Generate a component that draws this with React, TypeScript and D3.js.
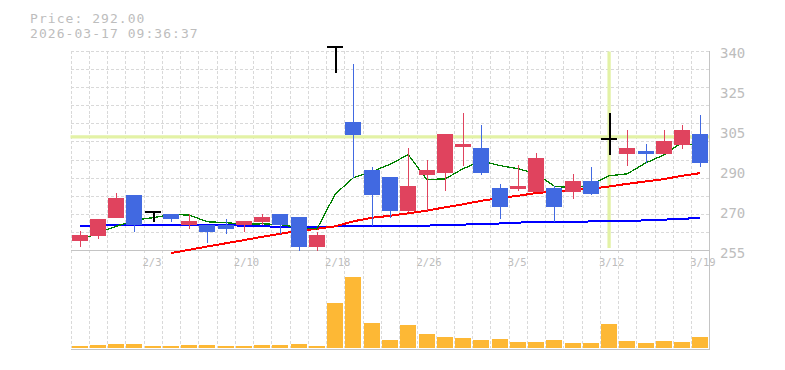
import React from "react";
import * as d3 from "d3";

const headerPrice = "Price: 292.00";
const headerTime = "2026-03-17 09:36:37";

const dates = ["1/28","1/29","1/30","2/2","2/3","2/4","2/5","2/6","2/9","2/10","2/12","2/13","2/16","2/17","2/18","2/19","2/20","2/24","2/25","2/26","2/27","3/2","3/3","3/4","3/5","3/6","3/9","3/10","3/11","3/12","3/13","3/16","3/17","3/18","3/19"];

const opens = [259.1, 261.3, 268.9, 278.7, 271.3, 270.6, 265.9, 265.9, 265.9, 265.9, 267.2, 270.6, 269.3, 256.3, 341.7, 309.7, 289.3, 286.3, 272.0, 287.2, 288.15, 299.1, 298.65, 281.65, 281.2, 279.95, 281.65, 279.95, 284.6, 302.35, 296.2, 297.4, 296.2, 300.05, 304.6];
const closes = [261.7, 268.5, 277.4, 265.9, 271.3, 268.2, 267.6, 263.0, 264.2, 267.6, 269.3, 265.9, 256.3, 261.7, 341.7, 304.3, 278.4, 272.0, 282.5, 289.3, 304.6, 300.35, 288.15, 273.3, 282.5, 294.4, 273.3, 284.6, 279.1, 302.35, 298.65, 296.2, 301.6, 306.3, 292.0];
const highs = [263.4, 268.5, 279.5, 278.7, 271.3, 270.6, 270.6, 265.9, 268.5, 267.6, 270.6, 270.6, 269.3, 263.0, 341.7, 334.4, 290.6, 286.3, 298.65, 293.55, 304.6, 313.5, 308.4, 283.35, 291.4, 296.5, 282.5, 287.6, 290.6, 313.65, 306.3, 300.35, 306.3, 308.4, 312.7];
const lows = [256.3, 260.0, 268.9, 263.0, 267.3, 267.2, 264.2, 258.4, 262.1, 263.0, 265.9, 262.1, 255.0, 255.0, 330.4, 285.8, 265.5, 269.0, 271.2, 272.0, 280.1, 291.1, 287.3, 268.2, 280.1, 279.95, 267.3, 277.1, 278.4, 295.4, 291.0, 292.0, 296.2, 298.35, 290.3];

const volumes = [17, 27, 37, 37, 17, 17, 27, 27, 17, 17, 27, 27, 37, 17, 447, 707, 247, 77, 227, 137, 107, 97, 77, 87, 57, 57, 77, 47, 47, 237, 67, 47, 67, 57, 107];

const ma5 = [259.38, 262.48, 265.29, 267.84, 268.94, 270.26, 270.09, 267.2, 266.86, 266.14, 266.35, 266.01, 264.69, 264.18, 278.99, 285.97, 288.46, 291.61, 295.77, 285.29, 285.35, 289.75, 292.98, 291.13, 289.77, 287.73, 282.32, 281.61, 282.78, 286.75, 287.6, 292.19, 295.59, 301.03, 299.04];
const ma25 = [null, null, null, null, null, 253.9, 255.3, 256.7, 258.06, 259.42, 260.82, 262.1, 263.37, 264.22, 265.29, 267.41, 268.9, 269.75, 270.81, 271.87, 273.36, 274.64, 276.12, 277.27, 278.25, 279.4, 280.08, 280.8, 281.22, 282.2, 283.35, 284.33, 285.35, 286.75, 287.9];
const ma75 = [265.41, 265.58, 265.92, 265.92, 265.92, 265.92, 265.92, 265.92, 265.84, 265.5, 265.29, 265.07, 264.95, 265.07, 265.2, 265.24, 265.33, 265.41, 265.5, 265.58, 265.8, 266.01, 266.26, 266.48, 266.86, 267.07, 267.2, 267.28, 267.33, 267.45, 267.62, 267.79, 268.13, 268.39, 268.98];

const priceTickValues = [255, 272, 289, 306, 323, 340];
const priceTickLabels = ["255", "270", "290", "305", "325", "340"];

const cursorIndex = 29;
const cursorPrice = 303.3;

const W = 785, H = 370;
const L = 70.5, R = 709.5, T = 50.5, B = 250.5;
const VB = 348, VT = 277, VAXIS = 349.5;

const UP = "#e0435e";
const DOWN = "#4169e1";
const GRID = "#d9d9d9";
const AXIS = "#c4c4c4";
const TEXT = "#bdbdbd";
const CROSS = "#e3f2a6";
const MONO = "'DejaVu Sans Mono', monospace";

export default function App() {
  const idx = d3.range(dates.length);
  const x = d3.scaleBand<number>().domain(idx).range([L, R]).paddingInner(0.1236).paddingOuter(0.0618);
  const step = x.step();
  const cx = (i: number) => (x(i) as number) + x.bandwidth() / 2;
  const y = d3.scaleLinear().domain([255, 340]).range([B, T]);
  const yv = d3.scaleLinear().domain([0, d3.max(volumes) as number]).range([VB, VT]);

  const gridPrices = d3.range(11).map((k) => 255 + ((k + 1) * 85) / 11);
  const vGrid = d3.range(dates.length).map((i) => L + step * i);

  const lineGen = d3
    .line<number | null>()
    .defined((d) => d !== null)
    .x((_, i) => cx(i))
    .y((d) => y(d as number));

  return (
    <svg width={W} height={H} style={{ display: "block", position: "absolute", left: 0, top: 0 }}>
      <rect x={0} y={0} width={W} height={H} fill="#fff" />
      <text x={30} y={22.5} fontFamily={MONO} fontSize={13} letterSpacing={1.05} fill={TEXT}>{headerPrice}</text>
      <text x={30} y={37.5} fontFamily={MONO} fontSize={13} letterSpacing={1.05} fill={TEXT}>{headerTime}</text>

      {/* grid */}
      <g stroke={GRID} strokeWidth={1} strokeDasharray="3,2" shapeRendering="crispEdges">
        {gridPrices.map((p, k) => (
          <line key={"h" + k} x1={L} x2={R} y1={Math.round(y(p)) + 0.5} y2={Math.round(y(p)) + 0.5} />
        ))}
        {vGrid.map((gx, k) => (
          <line key={"v" + k} x1={Math.round(gx) + 0.5} x2={Math.round(gx) + 0.5} y1={T} y2={VB} />
        ))}
      </g>

      {/* crosshair */}
      <line x1={L} x2={R} y1={y(cursorPrice)} y2={y(cursorPrice)} stroke={CROSS} strokeWidth={3.3} />
      <line x1={cx(cursorIndex)} x2={cx(cursorIndex)} y1={T + 1} y2={B - 2.5} stroke={CROSS} strokeWidth={3.3} />

      {/* axes */}
      <g stroke={AXIS} strokeWidth={1} shapeRendering="crispEdges">
        <line x1={L} x2={R} y1={B} y2={B} />
        <line x1={L} x2={R} y1={VAXIS} y2={VAXIS} />
        <line x1={R} x2={R} y1={T} y2={VAXIS} />
      </g>

      {/* moving averages */}
      <path d={lineGen(ma75) || ""} fill="none" stroke="#0000ff" strokeWidth={2} shapeRendering="crispEdges" />
      <path d={lineGen(ma25) || ""} fill="none" stroke="#ff0000" strokeWidth={2} shapeRendering="crispEdges" />
      <path d={lineGen(ma5) || ""} fill="none" stroke="#008000" strokeWidth={1.3} shapeRendering="crispEdges" />

      {/* candles */}
      {idx.map((i) => {
        const o = opens[i], c = closes[i], h = highs[i], l = lows[i];
        const x0 = x(i) as number;
        const mx = Math.round(cx(i)) + 0.5;
        if (o === c) {
          return (
            <g key={"c" + i} stroke="#000" strokeWidth={2} shapeRendering="crispEdges">
              <line x1={mx} x2={mx} y1={y(h)} y2={y(l)} />
              <line x1={x0} x2={x0 + x.bandwidth()} y1={y(o)} y2={y(o)} />
            </g>
          );
        }
        const col = c > o ? UP : DOWN;
        const top = y(Math.max(o, c));
        const bot = y(Math.min(o, c));
        return (
          <g key={"c" + i} shapeRendering="crispEdges">
            <line x1={mx} x2={mx} y1={y(h)} y2={y(l)} stroke={col} strokeWidth={1} />
            <rect x={x0} y={top} width={x.bandwidth()} height={Math.max(1, bot - top)} fill={col} />
          </g>
        );
      })}

      {/* volume */}
      {idx.map((i) => (
        <rect key={"v" + i} x={x(i) as number} y={yv(volumes[i])} width={x.bandwidth()} height={VB - yv(volumes[i])} fill="#fdb835" shapeRendering="crispEdges" />
      ))}

      {/* price labels */}
      {priceTickValues.map((v, k) => (
        <text key={"p" + k} x={720} y={y(v) + 7.5} fontFamily={MONO} fontSize={14} fill={TEXT}>{priceTickLabels[k]}</text>
      ))}

      {/* date labels */}
      {idx.filter((i) => i % 5 === 4).map((i) => (
        <text key={"d" + i} x={L + step * i - 1} y={265.7} fontFamily={MONO} fontSize={10.5} fill={TEXT}>{dates[i]}</text>
      ))}
    </svg>
  );
}
